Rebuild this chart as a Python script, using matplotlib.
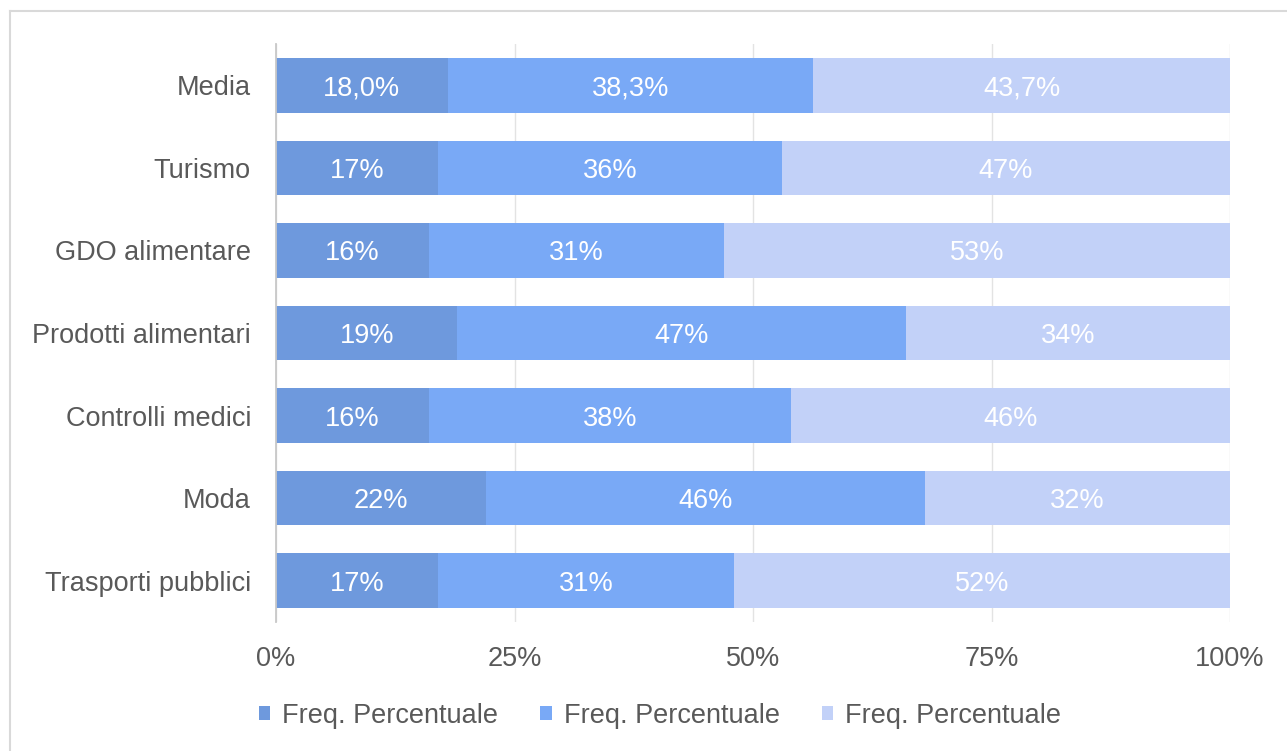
import matplotlib
matplotlib.use("Agg")
import matplotlib.pyplot as plt
from matplotlib.lines import Line2D
import numpy as np

categories = ["Media", "Turismo", "GDO alimentare", "Prodotti alimentari",
              "Controlli medici", "Moda", "Trasporti pubblici"]
serie_1 = [18.0, 17, 16, 19, 16, 22, 17]
serie_2 = [38.3, 36, 31, 47, 38, 46, 31]
serie_3 = [43.7, 47, 53, 34, 46, 32, 52]
decimali = [1, 0, 0, 0, 0, 0, 0]
series_names = ["Freq. Percentuale", "Freq. Percentuale", "Freq. Percentuale"]
x_ticks = [0, 25, 50, 75, 100]
x_tick_labels = ["0%", "25%", "50%", "75%", "100%"]

colors = ["#6e99dd", "#79a9f6", "#c2d1f8"]
text_color = "#595959"
fs = 19.5

plt.rcParams["font.family"] = ["Liberation Sans", "DejaVu Sans"]

fig = plt.figure(figsize=(12.87, 7.51), dpi=100)
ax = fig.add_axes([276 / 1287, 1 - 622 / 751, 954 / 1287, 578 / 751])

y = np.arange(len(categories))
left = np.zeros(len(categories))
for vals, col, name in zip([serie_1, serie_2, serie_3], colors, series_names):
    vals = np.array(vals, dtype=float)
    ax.barh(y, vals, left=left, height=0.66, color=col, label=name, zorder=2)
    for yi, (l, v, d) in enumerate(zip(left, vals, decimali)):
        txt = f"{v:.{d}f}%".replace(".", ",")
        ax.text(l + v / 2, yi, txt, ha="center", va="center_baseline",
                color="white", fontsize=fs, zorder=3)
    left = left + vals

ax.set_xlim(0, 100)
ax.set_ylim(len(categories) - 0.5, -0.5)
ax.set_yticks(y)
ax.set_yticklabels(categories, fontsize=fs, color=text_color)
ax.set_xticks(x_ticks)
ax.set_xticklabels(x_tick_labels, fontsize=fs, color=text_color)
ax.tick_params(axis="both", length=0)
ax.tick_params(axis="y", pad=18)
ax.tick_params(axis="x", pad=17)
ax.xaxis.grid(True, color="#e3e3e3", linewidth=1, zorder=0)
ax.set_axisbelow(True)
for s in ["top", "right", "bottom"]:
    ax.spines[s].set_visible(False)
ax.spines["left"].set_color("#c8c8c8")
ax.spines["left"].set_linewidth(1.3)

leg = fig.legend(loc="center", bbox_to_anchor=(660 / 1287, 1 - 716 / 751), ncol=3,
                 frameon=False, fontsize=fs, handlelength=0.42, handleheight=0.42,
                 handletextpad=0.45, columnspacing=1.55)
for t in leg.get_texts():
    t.set_color(text_color)

# light frame along the top and left edges
fig.add_artist(Line2D([10 / 1287, 1], [1 - 11 / 751, 1 - 11 / 751],
                      transform=fig.transFigure, color="#d9d9d9", linewidth=1.5))
fig.add_artist(Line2D([10 / 1287, 10 / 1287], [0, 1 - 11 / 751],
                      transform=fig.transFigure, color="#d9d9d9", linewidth=1.5))

fig.savefig("out.png", dpi=100, facecolor="white")
